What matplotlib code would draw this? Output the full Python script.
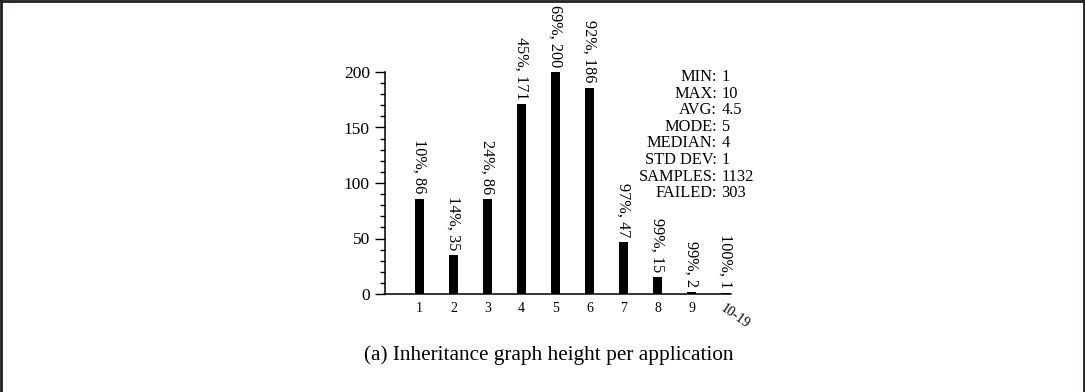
import matplotlib
matplotlib.use("Agg")
import matplotlib.pyplot as plt
from matplotlib.lines import Line2D
from matplotlib.ticker import MultipleLocator

plt.rcParams['font.family'] = ['Liberation Serif', 'DejaVu Serif']

# Histogram of inheritance graph heights
categories = ["1", "2", "3", "4", "5", "6", "7", "8", "9", "10-19"]
counts = [86, 35, 86, 171, 200, 186, 47, 15, 2, 1]
cumulative_pct = [10, 14, 24, 45, 69, 92, 97, 99, 99, 100]

stat_keys = ["MIN:", "MAX:", "AVG:", "MODE:", "MEDIAN:", "STD DEV:", "SAMPLES:", "FAILED:"]
stat_vals = ["1", "10", "4.5", "5", "4", "1", "1132", "303"]

caption = "(a) Inheritance graph height per application"

W, H = 1085, 392
fig = plt.figure(figsize=(W / 100, H / 100), dpi=100)
fig.patch.set_facecolor("white")


def fx(px):
    return px / W


def fy(py):
    return (H - py) / H


ax = fig.add_axes([fx(384.5), fy(294), (730.5 - 384.5) / W, 222 / H])
positions = list(range(1, len(categories) + 1))
ax.bar(positions, counts, width=0.27, color="black", zorder=3)

ax.set_xlim(-0.035, 10.14)
ax.set_ylim(0, 200)

for s in ("top", "right"):
    ax.spines[s].set_visible(False)
for s in ("left", "bottom"):
    ax.spines[s].set_linewidth(1.1)
    ax.spines[s].set_color("black")

ax.yaxis.set_major_locator(MultipleLocator(50))
ax.yaxis.set_minor_locator(MultipleLocator(10))
ax.tick_params(axis="y", which="major", direction="out", length=7.5, width=1.0,
               labelsize=12.5, pad=3)
ax.tick_params(axis="y", which="minor", direction="out", length=3.5, width=1.0)

ax.set_xticks(positions)
ax.set_xticklabels(categories)
ax.tick_params(axis="x", which="both", length=0, labelsize=10, pad=5.5)
last = ax.get_xticklabels()[-1]
last.set_rotation(-35)
last.set_rotation_mode("anchor")
last.set_ha("left")
last.set_va("top")

# Value labels above each bar
for x, v, p in zip(positions, counts, cumulative_pct):
    ax.annotate(f"{p}%, {v}", xy=(x, v), xytext=(0, 3.5), textcoords="offset points",
                rotation=-90, ha="center", va="bottom", fontsize=11.7,
                annotation_clip=False)

# Summary statistics block
y0 = 77
for i, (k, val) in enumerate(zip(stat_keys, stat_vals)):
    yy = fy(y0 + i * 16.6)
    fig.text(fx(717), yy, k, ha="right", va="center", fontsize=11.8)
    fig.text(fx(721.5), yy, val, ha="left", va="center", fontsize=11.8)

fig.text(fx(549), fy(355), caption, ha="center", va="center", fontsize=15.3)

# Frame around the figure
frame_color = "#231f20"
for xs, ys in (([0, 1], [1 - 1.2 / H, 1 - 1.2 / H]),
               ([1.2 / W, 1.2 / W], [0, 1]),
               ([1 - 1.2 / W, 1 - 1.2 / W], [0, 1])):
    fig.add_artist(Line2D(xs, ys, transform=fig.transFigure, color=frame_color, lw=2.0))

fig.savefig("out.png", dpi=100, facecolor="white")
